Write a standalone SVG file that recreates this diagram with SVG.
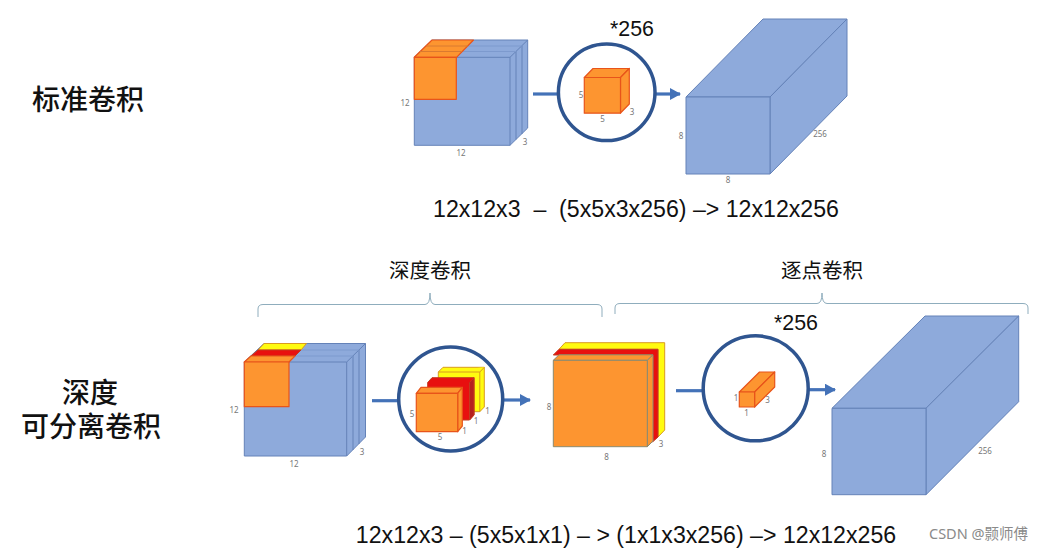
<svg xmlns="http://www.w3.org/2000/svg" width="1044" height="551" viewBox="0 0 1044 551">
<style>
text{font-family:"Noto Sans","Noto Sans CJK SC",sans-serif;fill:#111}
.h{font-size:28px;text-anchor:middle;font-weight:500}
.sub{font-size:20.500px;text-anchor:middle}
.f{font-family:"Liberation Sans",sans-serif;font-size:23.150px;text-anchor:middle;white-space:pre}
.m{font-family:"Liberation Sans",sans-serif;font-size:21.400px}
.d{font-size:8px;fill:#777;text-anchor:middle}
.b{fill:#8eaadb;stroke:#6482b8;stroke-width:1;stroke-linejoin:round}
.bl{fill:none;stroke:#6482b8;stroke-width:1}
.bf{fill:none;stroke:#7d9ace;stroke-width:1}
.o{fill:#fd9530;stroke:#e8541a;stroke-width:1.2;stroke-linejoin:round}
.og{fill:#fd9530;stroke:#8a8a70;stroke-width:1;stroke-linejoin:round}
.r{fill:#e8100f;stroke:#c23b1e;stroke-width:1}
.y{fill:#fffb10;stroke:#d99a20;stroke-width:1}
.c{fill:#fff;stroke:#2f5590;stroke-width:3.500}
.l{fill:none;stroke:#4472b8;stroke-width:3.200}
.br{fill:none;stroke:#8fadbd;stroke-width:1}
</style>
<defs><marker id="a" markerUnits="userSpaceOnUse" markerWidth="11" markerHeight="12" refX="10" refY="6" orient="auto"><path d="M0 0L11 6L0 12Z" fill="#4472b8"/></marker></defs>
<rect width="1044" height="551" fill="#fff"/>

<g id="connectors">
<path class="l" d="M533 94H558"/>
<path class="l" d="M655 94H680" marker-end="url(#a)"/>
<path class="l" d="M372 400.700H399"/>
<path class="l" d="M503 400H530" marker-end="url(#a)"/>
<path class="l" d="M676 390.700H703"/>
<path class="l" d="M808 389.700H835" marker-end="url(#a)"/>
</g>

<g id="label-standard"><text class="h" x="88" y="110">标准卷积</text></g>
<g id="label-depthwise-sep"><text class="h"><tspan x="90" y="403">深度</tspan><tspan x="91" y="437">可分离卷积</tspan></text></g>
<g id="formula-top"><text class="f" x="636" y="217">12x12x3  –  (5x5x3x256) –&gt; 12x12x256</text></g>
<g id="formula-bottom"><text class="f" x="626" y="543">12x12x3 – (5x5x1x1) – &gt; (1x1x3x256) –&gt; 12x12x256</text></g>

<g id="cube-input-top">
<path class="b" d="M414.300 57.300L432 40H527.700V128L510 145.300H414.300Z"/>
<path class="bl" d="M510 57.300L527.700 40M516 51.500V139.500M522 46V134M510 57.300V145.300M414.300 57.300H510"/>
<path class="bf" d="M422 51.500H516M427 46H522"/>
<path class="o" d="M414.300 57.300L432 40H473.500L456.500 57.300Z"/>
<path d="M420 51.500H462M426 46H468" stroke="#d97a30" stroke-width="1" fill="none"/>
<rect class="o" x="414.300" y="57.300" width="42" height="42"/>
<text class="d" x="405" y="106">12</text><text class="d" x="461" y="156">12</text><text class="d" x="525" y="145">3</text>
</g>

<g id="circle-top">
<circle class="c" cx="606.700" cy="92.300" r="48.300"/>
<path class="o" d="M584.300 77.500L593 68.500H629.300L620.500 77.500Z"/>
<path class="o" d="M620.500 77.500L629.300 68.500V104L620.500 113Z"/>
<rect class="o" x="584.300" y="77.500" width="36.200" height="35.700"/>
<text class="d" x="581" y="98">5</text><text class="d" x="602.500" y="122">5</text><text class="d" x="632" y="115">3</text>
</g>
<g id="star-top"><text class="m" x="610" y="36">*256</text></g>

<g id="block-top">
<path class="b" d="M686 97L763 19H847L770 97Z"/>
<path class="b" d="M770 97L847 19V96L770 174Z"/>
<rect class="b" x="686" y="97" width="84" height="77"/>
<text class="d" x="681" y="139">8</text><text class="d" x="728" y="183">8</text><text class="d" x="820" y="137">256</text>
</g>

<g id="brace-left"><path class="br" d="M258 317V309Q258 304.500 263 304.500H425Q430 304.500 430 293Q430 304.500 435 304.500H597Q602 304.500 602 309V317"/><text class="sub" x="430" y="278">深度卷积</text></g>
<g id="brace-right"><path class="br" d="M615 314V308Q615 303.500 620 303.500H817Q822 303.500 822 293Q822 303.500 827 303.500H1023Q1028 303.500 1028 308V314"/><text class="sub" x="822" y="278">逐点卷积</text></g>

<g id="cube-input-bottom">
<path class="b" d="M244.300 362L264 343.500H365.500V437L346.700 456H244.300Z"/>
<path class="bl" d="M346.700 362L365.500 343.500M353 356V450M359 350V444M346.700 362V456M244.300 362H346.700"/>
<path class="bf" d="M253 356H353M258 350H359"/>
<path class="y" d="M258 350L264 343.500H306.500L301 350Z"/>
<path class="r" d="M251 356L258 350H301L295 356Z"/>
<path class="o" d="M244.300 362L251 356H295L289 362Z"/>
<rect class="o" x="244.300" y="362" width="44.700" height="44.700"/>
<text class="d" x="234" y="413">12</text><text class="d" x="294" y="467">12</text><text class="d" x="362" y="455">3</text>
</g>

<g id="circle-mid">
<circle class="c" cx="450.700" cy="399" r="52"/>
<path class="y" d="M438.300 372L443 367.300H484.300V407L479.800 411.700H438.300Z"/>
<path class="y" d="M438.300 372H479.800L484.300 367.300M479.800 372V411.700"/>
<path class="r" d="M427.700 382.500L432 377.700H474V415L469.500 420H427.700Z"/>
<path d="M469.500 382.500L474 377.700V415L469.500 420Z" fill="#b5211f" stroke="#c23b1e"/>
<path class="o" d="M416.300 393.300L421 387.300H462.300L457.700 393.300Z"/>
<path class="o" d="M457.700 393.300L462.300 387.300V426L457.700 431.700Z"/>
<rect class="o" x="416.300" y="393.300" width="41.400" height="38.400"/>
<text class="d" x="412" y="417">5</text><text class="d" x="440" y="440">5</text><text class="d" x="464.500" y="434">1</text><text class="d" x="476" y="424">1</text><text class="d" x="487.500" y="414">1</text>
</g>

<g id="stack-mid">
<path class="y" d="M559 349.300L565 342.700H664.700V430L658 437V349.300Z"/>
<path class="r" d="M553.300 355L559 349.300H658V437L652.500 442V355Z"/>
<path class="og" d="M553.300 360.300L559 354.800H653L647.300 360.300Z"/>
<path class="og" d="M647.300 360.300L653 354.800V441L647.300 446.700Z"/>
<rect class="og" x="553.300" y="360.300" width="94" height="86.400"/>
<text class="d" x="549" y="410">8</text><text class="d" x="606.500" y="460">8</text><text class="d" x="661" y="447">3</text>
</g>

<g id="circle-right">
<circle class="c" cx="755.700" cy="388.300" r="52.500"/>
<path class="o" d="M739.300 392L759.500 372H774.700L754.600 392Z"/>
<path class="o" d="M754.600 392L774.700 372V387L754.600 407Z"/>
<rect class="o" x="739.300" y="392" width="15.300" height="15"/>
<text class="d" x="736" y="401">1</text><text class="d" x="746.500" y="416">1</text><text class="d" x="767.500" y="403">3</text>
</g>
<g id="star-right"><text class="m" x="774" y="330">*256</text></g>

<g id="block-bottom">
<path class="b" d="M832 408.300L925 316H1018.700L926 408.300Z"/>
<path class="b" d="M926 408.300L1018.700 316V401.700L926 494.700Z"/>
<rect class="b" x="832" y="408.300" width="94" height="86.400"/>
<text class="d" x="824" y="457">8</text><text class="d" x="985" y="454">256</text>
</g>

<g id="watermark"><text x="929" y="539" font-size="14.500" style="fill:#8a8a8a">CSDN @颢师傅</text></g>
</svg>
